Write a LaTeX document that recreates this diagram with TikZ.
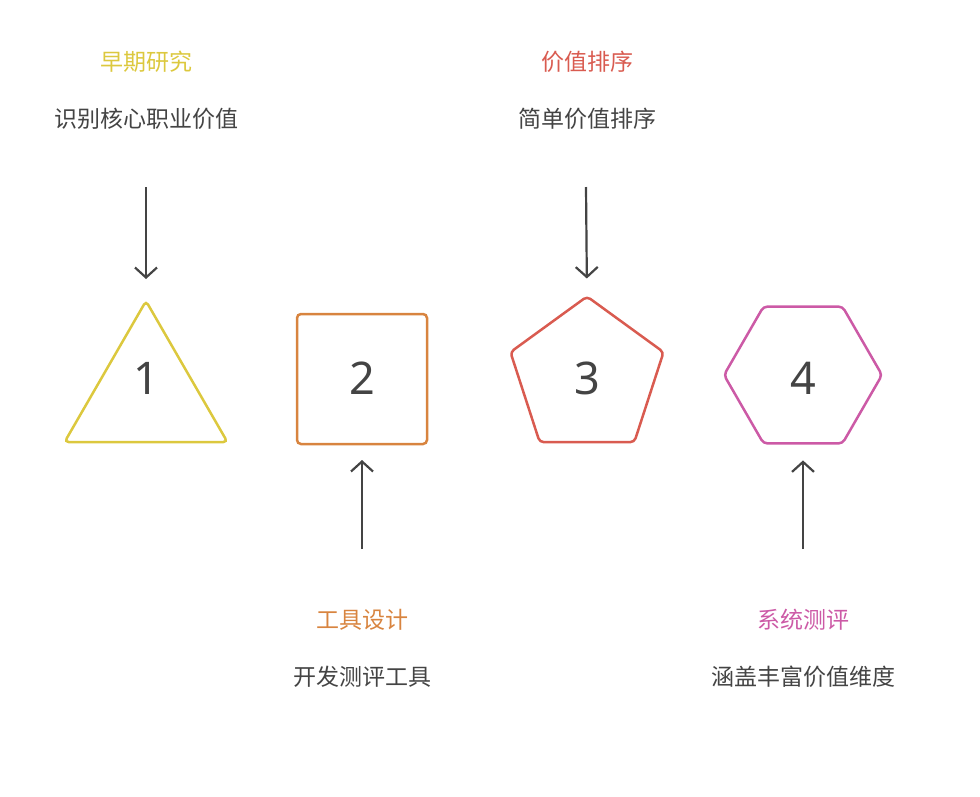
\documentclass[tikz,border=0pt]{standalone}
\usepackage{fontspec}
\setmainfont{Noto Sans}
\newfontfamily\cjk{Noto Sans CJK SC}
\usetikzlibrary{shapes.geometric,arrows.meta}
\definecolor{ink}{HTML}{444444}
\definecolor{earlycol}{HTML}{DCC83E}
\definecolor{toolcol}{HTML}{D8843F}
\definecolor{rankcol}{HTML}{D95B50}
\definecolor{evalcol}{HTML}{CC5AA6}
\begin{document}
\begin{tikzpicture}[x=1pt,y=-1pt]
        \tikzset{title/.style={font=\cjk\fontsize{23}{23}\selectfont},
                 desc/.style={font=\cjk\fontsize{23}{23}\selectfont,text=ink},
                 num/.style={font=\fontsize{45}{45}\selectfont,text=ink},
                 shp/.style={draw,line width=2.5pt,rounded corners=4pt,inner sep=0pt,outer sep=0pt},
                 flow/.style={draw=ink,line width=2.2pt,-{Straight Barb[length=10pt,width=22pt]}}};
        \useasboundingbox (0,0) rectangle (980,796);
        % shapes
        \node[shp,earlycol,regular polygon,regular polygon sides=3,minimum size=188pt] (tri) at (146,395) {};
        \node[shp,toolcol,rectangle,minimum size=130pt] (sq) at (362,379) {};
        \node[shp,rankcol,regular polygon,regular polygon sides=5,minimum size=161pt] (pent) at (587,377) {};
        \node[shp,evalcol,regular polygon,regular polygon sides=6,minimum size=158pt] (hex) at (803,375) {};
        \node[num] (n1) at (146,378) {1};
        \node[num] (n2) at (362,378) {2};
        \node[num] (n3) at (587,378) {3};
        \node[num] (n4) at (803,378) {4};
        % labels
        \node[title,earlycol] (t1) at (146,62) {早期研究};
        \node[desc] (d1) at (146,119) {识别核心职业价值};
        \node[title,rankcol] (t3) at (587,62) {价值排序};
        \node[desc] (d3) at (587,119) {简单价值排序};
        \node[title,toolcol] (t2) at (362,620) {工具设计};
        \node[desc] (d2) at (362,677) {开发测评工具};
        \node[title,evalcol] (t4) at (803,620) {系统测评};
        \node[desc] (d4) at (803,677) {涵盖丰富价值维度};
        % arrows
        \coordinate (a1) at (146,187);
        \coordinate (a2) at (362,549);
        \coordinate (a3) at (586,187);
        \coordinate (a4) at (803,549);
        \draw[flow,shorten >=22pt] (a1) -- (tri.north);
        \draw[flow,shorten >=16pt] (a2) -- (sq.south);
        \draw[flow,shorten >=18pt] (a3) -- (pent.north);
        \draw[flow,shorten >=17pt] (a4) -- (hex.south);
\end{tikzpicture}
\end{document}
